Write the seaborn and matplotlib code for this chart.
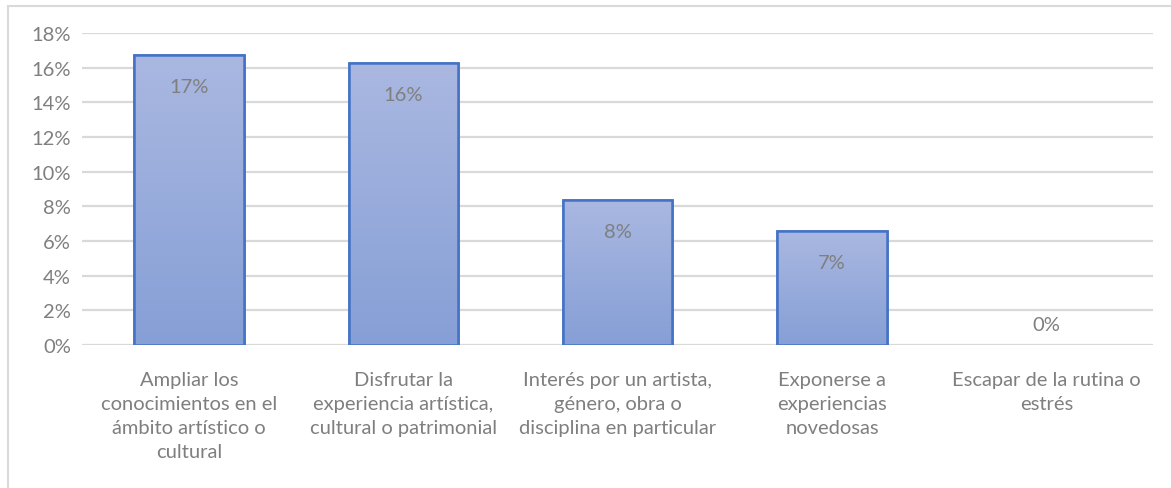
import numpy as np
import pandas as pd
import seaborn as sns
import matplotlib.pyplot as plt
from matplotlib.patches import Rectangle
from matplotlib.colors import LinearSegmentedColormap

# Data
categorias = [
    "Ampliar los\nconocimientos en el\námbito artístico o\ncultural",
    "Disfrutar la\nexperiencia artística,\ncultural o patrimonial",
    "Interés por un artista,\ngénero, obra o\ndisciplina en particular",
    "Exponerse a\nexperiencias\nnovedosas",
    "Escapar de la rutina o\nestrés",
]
valores = [0.1675, 0.1628, 0.0838, 0.0660, 0.0]
ticks_y = [0, 0.02, 0.04, 0.06, 0.08, 0.10, 0.12, 0.14, 0.16, 0.18]

df = pd.DataFrame({"cat": categorias, "val": valores})

sns.set_theme(style="white")
plt.rcParams['font.family'] = ['Lato', 'DejaVu Sans']

texto = "#7F7F7F"
borde = "#4472C4"
grid = "#D9D9D9"
fs = 14.5

fig = plt.figure(figsize=(11.71, 4.89), dpi=100)
ax = fig.add_axes([0.070, 0.2924, 0.915, 0.6381])

sns.barplot(data=df, x="cat", y="val", color="#98ABDC", width=0.51,
            edgecolor=borde, linewidth=1.8, saturation=1, ax=ax, zorder=3)

ax.set_ylim(0, 0.18)
ax.set_xlim(-0.5, len(categorias) - 0.5)
ax.set_yticks(ticks_y)
ax.set_yticklabels([f"{int(round(t * 100))}%" for t in ticks_y], color=texto, fontsize=fs)
ax.set_xticks(range(len(categorias)))
ax.set_xticklabels(categorias, color=texto, fontsize=fs, linespacing=1.5)
ax.tick_params(axis="both", length=0, pad=8)
ax.tick_params(axis="x", pad=19)
ax.set_xlabel("")
ax.set_ylabel("")
for s in ax.spines.values():
    s.set_visible(False)
ax.yaxis.grid(True, color=grid, linewidth=1.6, zorder=0)
ax.set_axisbelow(True)

# gradient fill clipped to each bar
cmap = LinearSegmentedColormap.from_list("grad", ["#869FD6", "#AAB8E1"])
grad = np.linspace(0, 1, 256).reshape(-1, 1)
for p in ax.patches:
    h = p.get_height()
    if h <= 0:
        p.set_edgecolor("none")
        p.set_facecolor("none")
        continue
    x0 = p.get_x()
    w = p.get_width()
    im = ax.imshow(grad, cmap=cmap, aspect="auto", origin="lower",
                   extent=[x0, x0 + w, 0, h], zorder=3.5)
    im.set_clip_path(p)
    ax.add_patch(Rectangle((x0, 0), w, h, fill=False, edgecolor=borde,
                           linewidth=1.8, zorder=4))

# data labels
for i, v in enumerate(valores):
    off = -23 if v > 0 else 15
    ax.annotate(f"{round(v * 100):.0f}%", (i, v), xytext=(0, off),
                textcoords="offset points", ha="center", va="center",
                color=texto, fontsize=fs, zorder=5)

# chart border
fig.patches.append(Rectangle((8 / 1171, -0.01), 1.0, 1 - 7 / 489 + 0.01,
                             transform=fig.transFigure, fill=False,
                             edgecolor="#D9D9D9", linewidth=1.5))

fig.savefig("out.png", dpi=100)
